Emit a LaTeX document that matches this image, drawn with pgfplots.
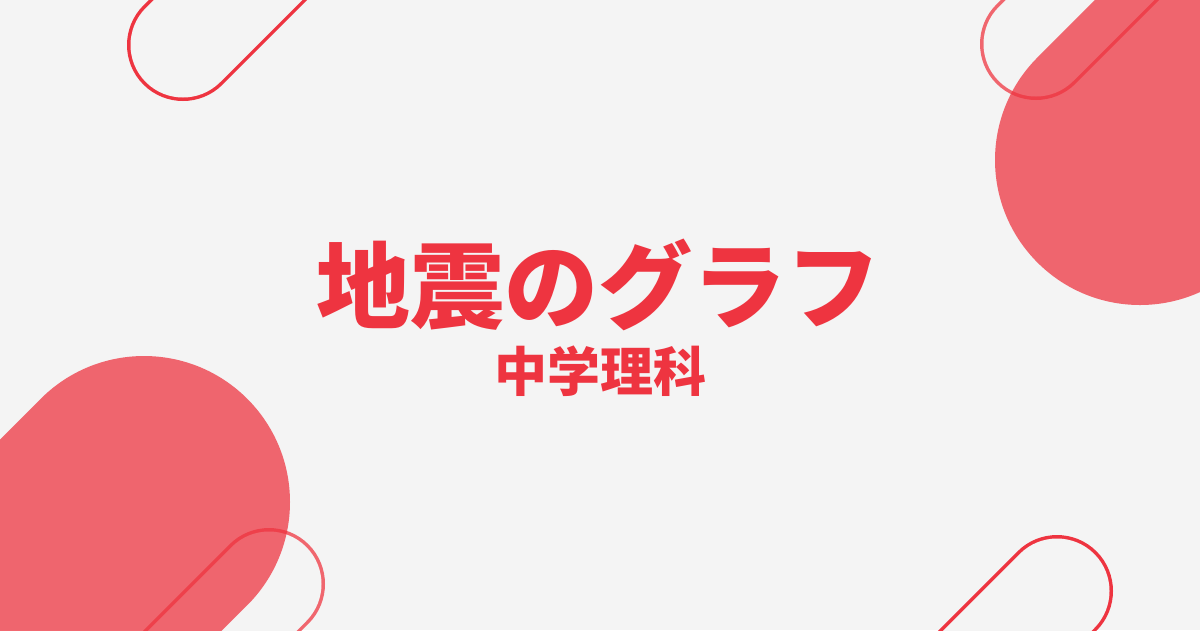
\documentclass[border=0pt]{standalone}
\usepackage{pgfplots}
\pgfplotsset{compat=1.18}
\usepackage{fontspec}
\newfontfamily\cjk{Noto Sans CJK JP}
\definecolor{bg}{HTML}{F4F4F4}
\definecolor{titlered}{HTML}{EE3440}
\definecolor{ringpink}{HTML}{F0666E}
\pagecolor{bg}
\begin{document}
\begin{tikzpicture}
\begin{axis}[
	width=1200pt, height=630pt, scale only axis,
	xmin=0, xmax=1200, ymin=0, ymax=630,
	y dir=reverse,
	hide axis,
	axis background/.style={fill=bg},
	clip=true,
]

% pale rings, drawn under the filled shapes
\addplot[draw=ringpink, line width=112pt, line cap=round] coordinates {(1036,44) (1336,-256)};
\addplot[draw=bg, line width=105pt, line cap=round] coordinates {(1036,44) (1336,-256)};
\addplot[draw=ringpink, line width=112pt, line cap=round] coordinates {(269,584) (-31,884)};
\addplot[draw=bg, line width=105pt, line cap=round] coordinates {(269,584) (-31,884)};

% big filled capsules
\addplot[draw=titlered, draw opacity=0.74, line width=290pt, line cap=round] coordinates {(1140,160) (1440,-140)};
\addplot[draw=titlered, draw opacity=0.74, line width=292pt, line cap=round] coordinates {(144,502) (-156,802)};

% solid rings
\addplot[draw=titlered, line width=112pt, line cap=round] coordinates {(183,45) (483,-255)};
\addplot[draw=bg, line width=105pt, line cap=round] coordinates {(183,45) (483,-255)};
\addplot[draw=titlered, line width=112pt, line cap=round] coordinates {(1057,591) (757,891)};
\addplot[draw=bg, line width=105pt, line cap=round] coordinates {(1057,591) (757,891)};

\node[anchor=base, text=titlered, font=\cjk\bfseries\fontsize{94}{100}\selectfont] at (598,321) {地震のグラフ};
\node[anchor=base, text=titlered, font=\cjk\bfseries\fontsize{53}{56}\selectfont] at (600,391) {中学理科};
\end{axis}
\pgfresetboundingbox
\useasboundingbox (current axis.south west) rectangle (current axis.north east);
\end{tikzpicture}
\end{document}
